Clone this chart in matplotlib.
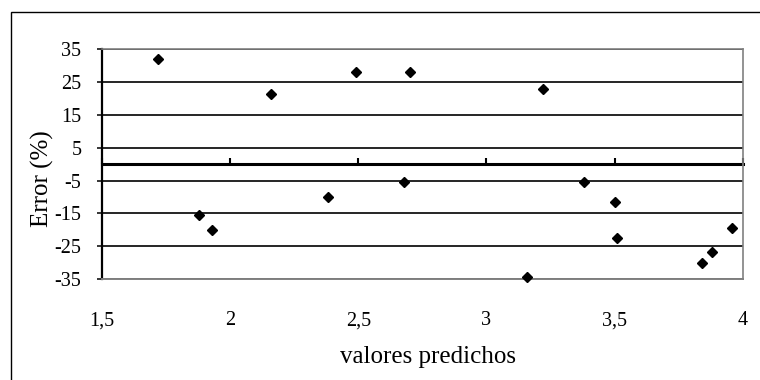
import matplotlib
matplotlib.use('Agg')
import matplotlib.pyplot as plt
from matplotlib.patches import Rectangle
from matplotlib.ticker import FixedLocator, FuncFormatter

# predicted value vs. relative error (%)
valores_predichos = [1.72, 1.88, 1.93, 2.16, 2.38, 2.49, 2.68, 2.70,
                     3.16, 3.22, 3.38, 3.50, 3.51, 3.84, 3.88, 3.96]
error_pct = [32.1, -15.4, -20.0, 21.2, -9.9, 28.0, -5.3, 28.0,
             -34.4, 22.8, -5.3, -11.6, -22.3, -29.9, -26.8, -19.3]

x_ticks = [1.5, 2.0, 2.5, 3.0, 3.5, 4.0]
y_ticks = [-35, -25, -15, -5, 5, 15, 25, 35]

plt.rcParams['font.family'] = 'Liberation Serif'
plt.rcParams['axes.unicode_minus'] = False

W, H = 760, 380
fig = plt.figure(figsize=(W / 100, H / 100), dpi=100)

# chart frame, cut off on the right and bottom
fig.add_artist(Rectangle((11 / W, -0.1), 1.2, 1.1 - 12 / H, transform=fig.transFigure,
                         fill=False, edgecolor='black', linewidth=1.0))

ax = fig.add_axes([102 / W, 1 - 279.3 / H, 640.7 / W, 230.3 / H])
ax.set_xlim(x_ticks[0], x_ticks[-1])
ax.set_ylim(y_ticks[0], y_ticks[-1])

ax.plot(valores_predichos, error_pct, linestyle='none', marker='D', ms=5.6,
        color='black', clip_on=False, zorder=5)

# horizontal gridlines
ax.yaxis.set_major_locator(FixedLocator(y_ticks))
ax.yaxis.set_major_formatter(FuncFormatter(lambda v, p: f'{v:.0f}'))
ax.grid(axis='y', color='black', linewidth=1.2)
ax.set_axisbelow(True)

for side in ['top', 'right', 'bottom']:
    ax.spines[side].set_color('#808080')
    ax.spines[side].set_linewidth(1.2)
ax.spines['bottom'].set_linewidth(1.4)
ax.spines['left'].set_color('black')
ax.spines['left'].set_linewidth(1.6)

comma = FuncFormatter(lambda v, p: f'{v:g}'.replace('.', ','))
ax.xaxis.set_major_locator(FixedLocator(x_ticks))
ax.xaxis.set_major_formatter(comma)
ax.tick_params(axis='x', length=0, pad=23, labelsize=14.5)
ax.tick_params(axis='y', direction='out', length=3.8, width=1.1, pad=11, labelsize=14.5)

# the zero line carries the x tick marks
zero = ax.secondary_xaxis(0.5)
zero.xaxis.set_major_locator(FixedLocator(x_ticks))
zero.spines['top'].set_linewidth(2.2)
zero.spines['top'].set_color('black')
zero.tick_params(axis='x', length=4, width=1.5, labeltop=False, labelbottom=False)

fig.text(428.5 / W, 1 - 363 / H, 'valores predichos', ha='center', va='baseline', fontsize=18)
fig.text(42.5 / W, 1 - 178.4 / H, 'Error (%)', ha='center', va='center', rotation=90, fontsize=18)

fig.savefig('out.png', dpi=100)
